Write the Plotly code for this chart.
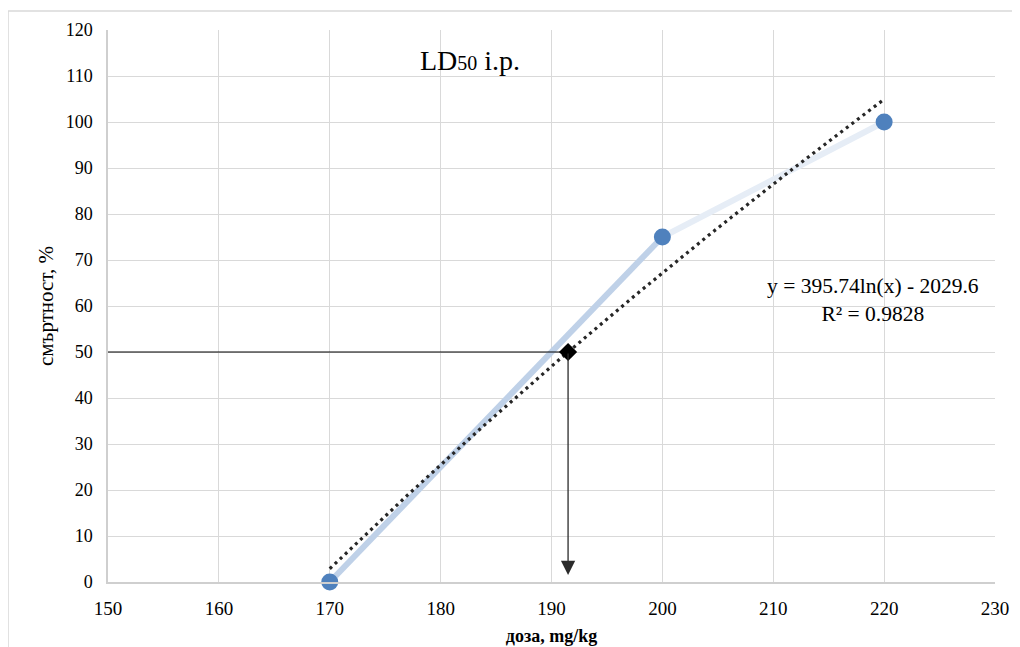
import numpy as np
import plotly.graph_objects as go

# Data
dose = [170, 200, 220]
mortality = [0, 75, 100]
x_ticks = [150, 160, 170, 180, 190, 200, 210, 220, 230]
y_ticks = list(range(0, 121, 10))
target_mortality = 50

# Logarithmic fit (Excel trendline)
a, b = np.polyfit(np.log(dose), mortality, 1)
pred = a*np.log(dose) + b
r2 = 1 - np.sum((np.array(mortality) - pred)**2) / np.sum((np.array(mortality)-np.mean(mortality))**2)
xt = np.linspace(min(dose), max(dose), 200)
yt = a*np.log(xt) + b
ld50 = float(np.exp((target_mortality - b) / a))

SERIF = "Liberation Serif"

fig = go.Figure()

# data line (gradient approximated by segments)
seg_colors = ["#bfd1e8", "#e6edf6"]
for i in range(len(dose)-1):
    fig.add_trace(go.Scatter(x=dose[i:i+2], y=mortality[i:i+2], mode="lines",
                             line=dict(color=seg_colors[i], width=6), hoverinfo="skip"))

# trendline
fig.add_trace(go.Scatter(x=xt, y=yt, mode="lines",
                         line=dict(color="#262626", width=3.2, dash="3px,4px")))

# horizontal reference line
fig.add_trace(go.Scatter(x=[x_ticks[0], ld50], y=[target_mortality, target_mortality], mode="lines",
                         line=dict(color="#000000", width=1)))

# markers
fig.add_trace(go.Scatter(x=dose, y=mortality, mode="markers", cliponaxis=False,
                         marker=dict(color="#4f81bd", size=17)))

# LD50 diamond
fig.add_trace(go.Scatter(x=[ld50], y=[target_mortality], mode="markers",
                         marker=dict(color="#000000", symbol="diamond", size=14)))

# arrow down
fig.add_annotation(x=ld50, y=1.5, ax=ld50, ay=target_mortality, xref="x", yref="y",
                   axref="x", ayref="y", text="", showarrow=True, arrowhead=2,
                   arrowsize=2.2, arrowwidth=1.3, arrowcolor="#2b2b2b")

# title
fig.add_annotation(x=0.408, y=0.945, xref="paper", yref="paper", showarrow=False,
                   xanchor="center", yanchor="middle",
                   text="LD<span style='font-size:20px'>50</span> i.p.",
                   font=dict(family=SERIF, size=28, color="#000000"))

# equation
fig.add_annotation(x=0.862, y=0.511, xref="paper", yref="paper", showarrow=False,
                   xanchor="center", yanchor="middle",
                   text=f"y = {a:.2f}ln(x) - {abs(b):.1f}<br>R² = {r2:.4f}",
                   align="center", font=dict(family=SERIF, size=21.5, color="#000000"))

# outer border
fig.add_shape(type="line", xref="paper", yref="paper", x0=-0.1127, x1=1.05, y0=1.0344, y1=1.0344,
              line=dict(color="#d9d9d9", width=1.5))
fig.add_shape(type="line", xref="paper", yref="paper", x0=-0.1127, x1=-0.1127, y0=1.0344, y1=-0.2,
              line=dict(color="#d9d9d9", width=1.5))

fig.update_layout(
    width=1012, height=639,
    margin=dict(l=100, r=25, t=22, b=65),
    paper_bgcolor="white", plot_bgcolor="white",
    showlegend=False,
    font=dict(family=SERIF, color="#000000"),
    xaxis=dict(range=[150, 230], tickvals=x_ticks, showgrid=True, gridcolor="#d9d9d9",
               gridwidth=1, showline=True, linecolor="#cfcfcf", linewidth=1.5,
               zeroline=False, ticks="", tickfont=dict(size=19, family=SERIF, color="#000000"),
               ticklabelstandoff=8, automargin=False,
               title=dict(text="<b>доза, mg/kg</b>", font=dict(size=18, family=SERIF), standoff=12)),
    yaxis=dict(range=[0, 120], tickvals=y_ticks, showgrid=True, gridcolor="#d9d9d9",
               gridwidth=1, showline=True, linecolor="#cfcfcf", linewidth=1.5,
               zeroline=False, ticks="", tickfont=dict(size=18, family=SERIF, color="#000000"),
               ticklabelstandoff=10, automargin=False,
               title=dict(text="смъртност, %", font=dict(size=21, family=SERIF), standoff=6)),
)

fig.write_html("out.html")
